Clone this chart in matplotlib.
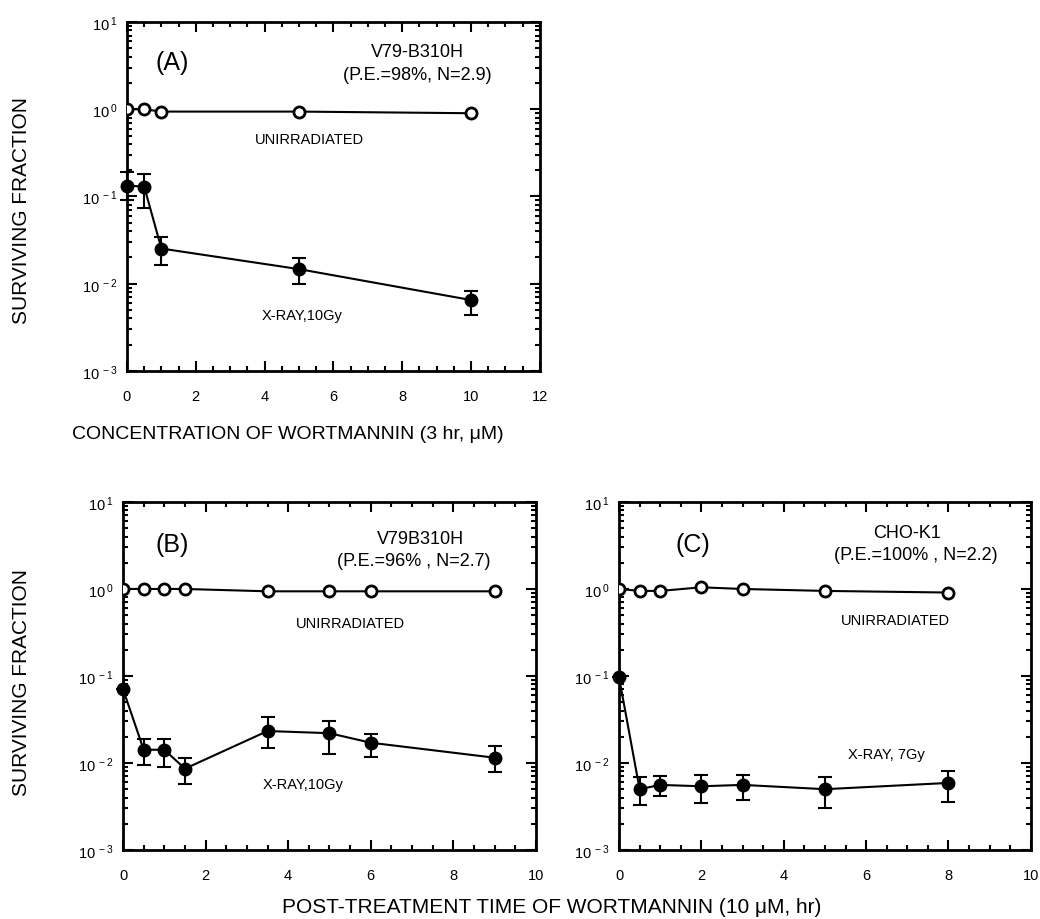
import matplotlib
matplotlib.use("Agg")
import matplotlib.pyplot as plt
from matplotlib.ticker import FixedLocator, LogLocator, NullFormatter, FuncFormatter, MultipleLocator

plt.rcParams["font.family"] = ["Liberation Sans", "DejaVu Sans"]
plt.rcParams["mathtext.fontset"] = "custom"
plt.rcParams["mathtext.rm"] = "Liberation Sans"

# Panel A: concentration of wortmannin (3 hr, uM)
a_unirr_x = [0, 0.5, 1, 5, 10]
a_unirr_y = [1.0, 1.0, 0.94, 0.94, 0.90]
a_xray_x = [0, 0.5, 1, 5, 10]
a_xray_y = [0.133, 0.13, 0.0253, 0.0147, 0.0065]
a_xray_lo = [0.092, 0.074, 0.0163, 0.0100, 0.0044]
a_xray_hi = [0.19, 0.18, 0.034, 0.0199, 0.0083]

# Panel B: post-treatment time, V79B310H
b_unirr_x = [0, 0.5, 1, 1.5, 3.5, 5, 6, 9]
b_unirr_y = [1.0, 1.0, 1.0, 1.0, 0.94, 0.94, 0.94, 0.94]
b_xray_x = [0, 0.5, 1, 1.5, 3.5, 5, 6, 9]
b_xray_y = [0.0705, 0.0142, 0.0142, 0.0086, 0.0233, 0.022, 0.0171, 0.0115]
b_xray_lo = [0.0705, 0.0096, 0.0091, 0.0058, 0.0148, 0.0128, 0.0117, 0.0079]
b_xray_hi = [0.0705, 0.019, 0.019, 0.0115, 0.034, 0.0307, 0.0216, 0.0156]

# Panel C: post-treatment time, CHO-K1
c_unirr_x = [0, 0.5, 1, 2, 3, 5, 8]
c_unirr_y = [1.0, 0.95, 0.95, 1.045, 1.0, 0.95, 0.91]
c_xray_x = [0, 0.5, 1, 2, 3, 5, 8]
c_xray_y = [0.097, 0.0050, 0.0056, 0.0054, 0.0056, 0.0050, 0.0059]
c_xray_lo = [0.097, 0.0033, 0.0042, 0.0035, 0.0038, 0.0030, 0.0036]
c_xray_hi = [0.097, 0.0069, 0.0071, 0.0072, 0.0072, 0.0069, 0.0080]

y_ticks = [1e-3, 1e-2, 1e-1, 1e0, 1e1]
y_tick_labels = ["-3", "-2", "-1", "0", "1"]


def style_axes(ax, xmax):
    ax.set_yscale("log")
    ax.set_ylim(1e-3, 1e1)
    ax.set_xlim(0, xmax)
    ax.yaxis.set_major_locator(FixedLocator(y_ticks))
    ax.yaxis.set_minor_locator(LogLocator(base=10, subs=range(2, 10)))
    ax.yaxis.set_minor_formatter(NullFormatter())
    ax.yaxis.set_major_formatter(FuncFormatter(
        lambda v, p: r"$\mathregular{10^{\,%s}}$" % y_tick_labels[y_ticks.index(v)]
        if v in y_ticks else ""))
    ax.xaxis.set_major_locator(MultipleLocator(2))
    ax.xaxis.set_minor_locator(MultipleLocator(0.5))
    ax.tick_params(which="both", direction="in", top=True, right=True,
                   width=1.5, labelsize=10.5)
    ax.tick_params(which="major", length=7)
    ax.tick_params(which="minor", length=3.5)
    ax.tick_params(axis="x", pad=13)
    ax.tick_params(axis="y", pad=7)
    for s in ax.spines.values():
        s.set_linewidth(2)


def draw(ax, ux, uy, xx, xy, lo, hi):
    ax.plot(ux, uy, "-o", color="black", mfc="white", mec="black", mew=2,
            ms=8, lw=1.5, zorder=3)
    yerr = [[y - l for y, l in zip(xy, lo)], [h - y for y, h in zip(xy, hi)]]
    ax.errorbar(xx, xy, yerr=yerr, fmt="-o", color="black", ms=9, lw=1.5,
                elinewidth=1.5, capsize=5, capthick=1.5, zorder=3, clip_on=False)


fig = plt.figure(figsize=(10.4, 9.2), dpi=100)

ax_a = fig.add_axes([0.1221, 0.5957, 0.397, 0.3793])
ax_b = fig.add_axes([0.1183, 0.075, 0.397, 0.3783])
ax_c = fig.add_axes([0.5952, 0.075, 0.396, 0.3783])

style_axes(ax_a, 12)
style_axes(ax_b, 10)
style_axes(ax_c, 10)

draw(ax_a, a_unirr_x, a_unirr_y, a_xray_x, a_xray_y, a_xray_lo, a_xray_hi)
draw(ax_b, b_unirr_x, b_unirr_y, b_xray_x, b_xray_y, b_xray_lo, b_xray_hi)
draw(ax_c, c_unirr_x, c_unirr_y, c_xray_x, c_xray_y, c_xray_lo, c_xray_hi)

# Panel A annotations
ax_a.text(1.3, 3.5, "(A)", fontsize=18, ha="center", va="center")
ax_a.text(8.45, 4.6, "V79-B310H", fontsize=13, ha="center", va="center")
ax_a.text(8.45, 2.5, "(P.E.=98%, N=2.9)", fontsize=13, ha="center", va="center")
ax_a.text(5.3, 0.45, "UNIRRADIATED", fontsize=10.5, ha="center", va="center")
ax_a.text(5.1, 0.0044, "X-RAY,10Gy", fontsize=10.5, ha="center", va="center")

# Panel B annotations
ax_b.text(1.2, 3.3, "(B)", fontsize=18, ha="center", va="center")
ax_b.text(7.2, 3.8, "V79B310H", fontsize=13, ha="center", va="center")
ax_b.text(7.05, 2.1, "(P.E.=96% , N=2.7)", fontsize=13, ha="center", va="center")
ax_b.text(5.5, 0.41, "UNIRRADIATED", fontsize=10.5, ha="center", va="center")
ax_b.text(4.35, 0.0057, "X-RAY,10Gy", fontsize=10.5, ha="center", va="center")

# Panel C annotations
ax_c.text(1.8, 3.3, "(C)", fontsize=18, ha="center", va="center")
ax_c.text(7.0, 4.4, "CHO-K1", fontsize=13, ha="center", va="center")
ax_c.text(7.2, 2.5, "(P.E.=100% , N=2.2)", fontsize=13, ha="center", va="center")
ax_c.text(6.7, 0.44, "UNIRRADIATED", fontsize=10.5, ha="center", va="center")
ax_c.text(6.5, 0.0127, "X-RAY, 7Gy", fontsize=10.5, ha="center", va="center")

fig.text(0.277, 0.528, "CONCENTRATION OF WORTMANNIN (3 hr, \u03bcM)",
         fontsize=14, ha="center", va="center")
fig.text(0.53, 0.014, "POST-TREATMENT TIME OF WORTMANNIN (10 \u03bcM, hr)",
         fontsize=15, ha="center", va="center")
fig.text(0.021, 0.771, "SURVIVING FRACTION", fontsize=15, rotation=90,
         ha="center", va="center")
fig.text(0.021, 0.258, "SURVIVING FRACTION", fontsize=15, rotation=90,
         ha="center", va="center")

fig.savefig("out.png", dpi=100)
